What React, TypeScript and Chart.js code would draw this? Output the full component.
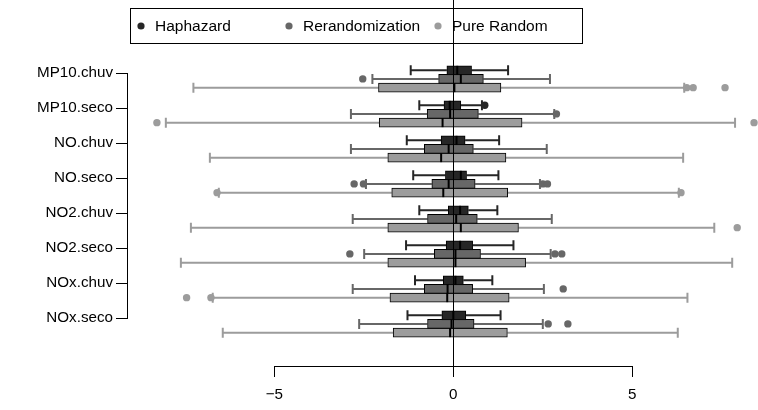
import React, { useEffect, useRef } from 'react';
import { Chart, registerables } from 'chart.js';

Chart.register(...registerables);

// ---------- data ----------
const categories = ['MP10.chuv', 'MP10.seco', 'NO.chuv', 'NO.seco', 'NO2.chuv', 'NO2.seco', 'NOx.chuv', 'NOx.seco'];
const seriesNames = ['Haphazard', 'Rerandomization', 'Pure Random'];
const xTickValues = [-5, 0, 5];

// Haphazard
const hapLow = [-1.19, -0.95, -1.30, -1.12, -0.95, -1.32, -1.07, -1.28];
const hapQ1 = [-0.18, -0.26, -0.34, -0.22, -0.14, -0.20, -0.28, -0.32];
const hapMed = [0.11, -0.10, 0.09, 0.21, 0.19, 0.19, 0.06, 0.00];
const hapQ3 = [0.51, 0.21, 0.33, 0.37, 0.42, 0.54, 0.28, 0.35];
const hapHigh = [1.53, 0.80, 1.28, 1.26, 1.23, 1.68, 1.09, 1.32];
const hapOut: number[][] = [[], [0.88], [], [], [], [], [], []];

// Rerandomization
const rerLow = [-2.26, -2.86, -2.86, -2.44, -2.81, -2.49, -2.81, -2.63];
const rerQ1 = [-0.41, -0.73, -0.81, -0.60, -0.72, -0.53, -0.81, -0.72];
const rerMed = [0.21, -0.09, -0.13, -0.13, 0.08, 0.06, -0.16, -0.05];
const rerQ3 = [0.84, 0.70, 0.56, 0.61, 0.67, 0.76, 0.54, 0.58];
const rerHigh = [2.70, 2.82, 2.61, 2.42, 2.75, 2.72, 2.53, 2.50];
const rerOut: number[][] = [[-2.53], [2.88], [], [-2.77, -2.51, 2.50, 2.63], [], [-2.89, 2.84, 3.03], [3.07], [2.65, 3.20]];

// Pure Random
const purLow = [-7.26, -8.03, -6.80, -6.55, -7.33, -7.61, -6.72, -6.44];
const purQ1 = [-2.09, -2.07, -1.83, -1.72, -1.83, -1.83, -1.77, -1.68];
const purMed = [0.03, -0.30, -0.34, -0.28, 0.21, 0.06, -0.17, -0.09];
const purQ3 = [1.33, 1.92, 1.47, 1.52, 1.82, 2.02, 1.56, 1.51];
const purHigh = [6.45, 7.87, 6.42, 6.30, 7.29, 7.79, 6.54, 6.27];
const purOut: number[][] = [[6.52, 6.70, 7.59], [-8.28, 8.40], [], [-6.60, 6.36], [7.93], [], [-6.77, -7.45], []];

// ---------- styles / layout ----------
const FONT_FAMILY = "'Liberation Sans', Arial, Helvetica, sans-serif";
const AXIS_FONT_SIZE = 15.2;
const LEGEND_FONT_SIZE = 15.5;

const X_MIN = -9.087;
const X_MAX = 8.511;
const Y_MIN = -1.0943;
const Y_MAX = 9.3629;

const BOX_PX = 9;
const CAP_HALF_PX = 5;

const series = [
  { name: seriesNames[0], low: hapLow, q1: hapQ1, med: hapMed, q3: hapQ3, high: hapHigh, out: hapOut, fill: '#262626', line: '#262626', offset: -0.085 },
  { name: seriesNames[1], low: rerLow, q1: rerQ1, med: rerMed, q3: rerQ3, high: rerHigh, out: rerOut, fill: '#676767', line: '#676767', offset: 0.16 },
  { name: seriesNames[2], low: purLow, q1: purQ1, med: purMed, q3: purQ3, high: purHigh, out: purOut, fill: '#9c9c9c', line: '#9c9c9c', offset: 0.41 },
];

const LEGEND_BOX = { left: 130.5, top: 8.5, right: 582.5, bottom: 43.5 };
const LEGEND_ITEM_X = [141, 289, 438];

const boxPlugin = {
  id: 'rBoxplot',
  beforeDatasetsDraw(chart: any) {
    const { ctx, scales } = chart;
    const x = scales.x;
    const y = scales.y;
    ctx.save();
    series.forEach((s) => {
      ctx.strokeStyle = s.line;
      ctx.lineWidth = 2;
      categories.forEach((_, i) => {
        const yc = y.getPixelForValue(i + 1 + s.offset);
        const xl = x.getPixelForValue(s.low[i]);
        const x1 = x.getPixelForValue(s.q1[i]);
        const x3 = x.getPixelForValue(s.q3[i]);
        const xh = x.getPixelForValue(s.high[i]);
        ctx.beginPath();
        ctx.moveTo(xl, yc);
        ctx.lineTo(x1, yc);
        ctx.moveTo(x3, yc);
        ctx.lineTo(xh, yc);
        ctx.moveTo(xl, yc - CAP_HALF_PX);
        ctx.lineTo(xl, yc + CAP_HALF_PX);
        ctx.moveTo(xh, yc - CAP_HALF_PX);
        ctx.lineTo(xh, yc + CAP_HALF_PX);
        ctx.stroke();
      });
    });
    ctx.restore();
  },
  afterDatasetsDraw(chart: any) {
    const { ctx, scales, chartArea } = chart;
    const x = scales.x;
    const y = scales.y;
    ctx.save();
    // medians
    ctx.strokeStyle = '#000';
    ctx.lineWidth = 2;
    series.forEach((s) => {
      categories.forEach((_, i) => {
        const yc = y.getPixelForValue(i + 1 + s.offset);
        const xm = x.getPixelForValue(s.med[i]);
        ctx.beginPath();
        ctx.moveTo(xm, yc - BOX_PX / 2);
        ctx.lineTo(xm, yc + BOX_PX / 2);
        ctx.stroke();
      });
    });
    // axis lines (R style: from first to last tick)
    ctx.lineWidth = 1;
    ctx.strokeStyle = '#000';
    const xa = x.getPixelForValue(xTickValues[0]);
    const xb = x.getPixelForValue(xTickValues[xTickValues.length - 1]);
    const yAxisPx = Math.round(chartArea.bottom) + 0.5;
    ctx.beginPath();
    ctx.moveTo(Math.round(xa) + 0.5, yAxisPx);
    ctx.lineTo(Math.round(xb) + 0.5, yAxisPx);
    ctx.stroke();
    const ya = y.getPixelForValue(1);
    const yb = y.getPixelForValue(categories.length);
    const xAxisPx = Math.round(chartArea.left) - 0.5;
    ctx.beginPath();
    ctx.moveTo(xAxisPx, Math.round(ya) + 0.5);
    ctx.lineTo(xAxisPx, Math.round(yb) + 0.5);
    ctx.stroke();
    // legend
    ctx.strokeStyle = '#000';
    ctx.lineWidth = 1;
    ctx.strokeRect(LEGEND_BOX.left, LEGEND_BOX.top, LEGEND_BOX.right - LEGEND_BOX.left, LEGEND_BOX.bottom - LEGEND_BOX.top);
    const ly = (LEGEND_BOX.top + LEGEND_BOX.bottom) / 2;
    ctx.font = `${LEGEND_FONT_SIZE}px ${FONT_FAMILY}`;
    ctx.textBaseline = 'middle';
    ctx.textAlign = 'left';
    series.forEach((s, k) => {
      ctx.fillStyle = s.fill;
      ctx.beginPath();
      ctx.arc(LEGEND_ITEM_X[k], ly, 3.6, 0, Math.PI * 2);
      ctx.fill();
      ctx.fillStyle = '#000';
      ctx.fillText(s.name, LEGEND_ITEM_X[k] + 14, ly + 1);
    });
    // zero reference line
    const x0 = Math.round(x.getPixelForValue(0)) + 0.5;
    ctx.beginPath();
    ctx.moveTo(x0, 0);
    ctx.lineTo(x0, chartArea.bottom);
    ctx.stroke();
    ctx.restore();
  },
};

export default function App() {
  const canvasRef = useRef<HTMLCanvasElement | null>(null);

  useEffect(() => {
    if (!canvasRef.current) return;
    const axisFont = { family: FONT_FAMILY, size: AXIS_FONT_SIZE };

    const barDatasets = series.map((s) => ({
      type: 'bar' as const,
      label: s.name,
      indexAxis: 'y' as const,
      data: categories.map((_, i) => ({ x: [s.q1[i], s.q3[i]], y: i + 1 + s.offset })),
      backgroundColor: s.fill,
      borderColor: '#000',
      borderWidth: 1,
      borderSkipped: false,
      barThickness: BOX_PX,
      grouped: false,
      xAxisID: 'x',
      yAxisID: 'y',
    }));

    const outlierDatasets = series.map((s) => {
      const pts: { x: number; y: number }[] = [];
      s.out.forEach((vals, i) => vals.forEach((v) => pts.push({ x: v, y: i + 1 + s.offset })));
      return {
        type: 'scatter' as const,
        label: s.name + ' outliers',
        data: pts,
        pointRadius: 3.7,
        pointBackgroundColor: s.fill,
        pointBorderWidth: 0,
        pointBorderColor: s.fill,
        showLine: false,
        clip: false,
        xAxisID: 'x',
        yAxisID: 'y',
      };
    });

    const chart = new Chart(canvasRef.current, {
      type: 'bar',
      data: { datasets: [...outlierDatasets, ...barDatasets] as any },
      options: {
        animation: false,
        responsive: false,
        devicePixelRatio: 1,
        events: [],
        layout: { padding: 0, autoPadding: false },
        plugins: { legend: { display: false }, tooltip: { enabled: false } },
        scales: {
          x: {
            type: 'linear',
            position: 'bottom',
            min: X_MIN,
            max: X_MAX,
            offset: false,
            beginAtZero: false,
            afterBuildTicks: (s: any) => {
              s.ticks = xTickValues.map((v) => ({ value: v }));
            },
            afterFit: (s: any) => {
              s.height = 44;
              s.paddingLeft = 0;
              s.paddingRight = 0;
            },
            ticks: {
              font: axisFont,
              color: '#000',
              padding: 9,
              maxRotation: 0,
              autoSkip: false,
              callback: (v: any) => (Number(v) < 0 ? '\u2212' + Math.abs(Number(v)) : String(v)),
            },
            grid: { offset: false, drawOnChartArea: false, drawTicks: true, tickLength: 11, color: '#000', lineWidth: 1 },
            border: { display: false },
          },
          y: {
            type: 'linear',
            position: 'left',
            reverse: true,
            min: Y_MIN,
            max: Y_MAX,
            offset: false,
            beginAtZero: false,
            afterBuildTicks: (s: any) => {
              s.ticks = categories.map((_, i) => ({ value: i + 1 }));
            },
            afterFit: (s: any) => {
              s.width = 128;
              s.paddingTop = 0;
              s.paddingBottom = 0;
            },
            ticks: {
              font: axisFont,
              color: '#000',
              padding: 3,
              autoSkip: false,
              callback: (v: any) => categories[Math.round(Number(v)) - 1] ?? '',
            },
            grid: { offset: false, drawOnChartArea: false, drawTicks: true, tickLength: 12, color: '#000', lineWidth: 1 },
            border: { display: false },
          },
        },
      } as any,
      plugins: [boxPlugin],
    });

    return () => chart.destroy();
  }, []);

  return (
    <div style={{ position: 'absolute', left: 0, top: 0, width: 758, height: 410, background: '#fff' }}>
      <canvas ref={canvasRef} width={758} height={410} style={{ display: 'block' }} />
    </div>
  );
}
